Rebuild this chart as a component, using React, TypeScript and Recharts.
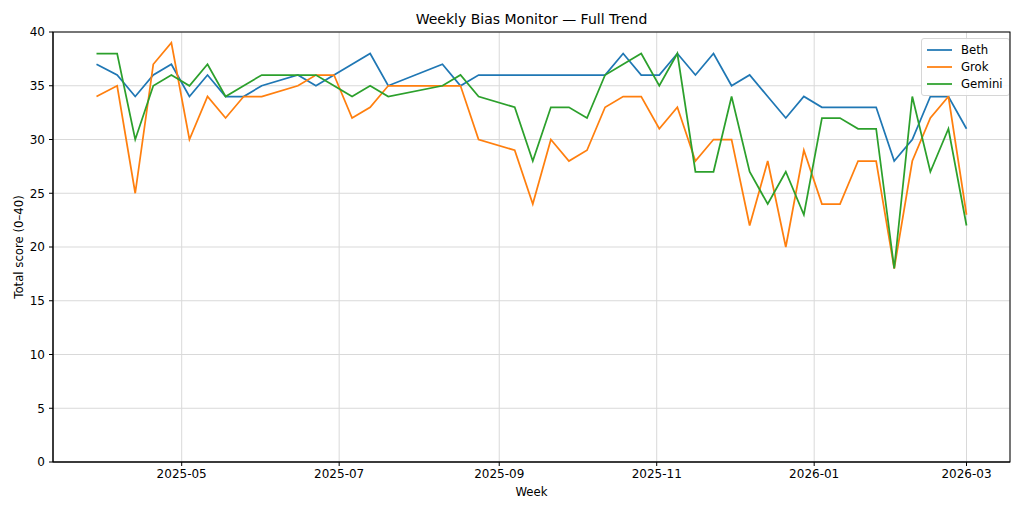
import {
  CartesianGrid,
  Legend,
  Line,
  LineChart,
  XAxis,
  YAxis,
} from 'recharts'

const weeks = [
  '2025-03-29', '2025-04-06', '2025-04-13', '2025-04-20', '2025-04-27',
  '2025-05-04', '2025-05-11', '2025-05-18', '2025-05-25', '2025-06-01',
  '2025-06-15', '2025-06-22', '2025-06-29', '2025-07-06', '2025-07-13',
  '2025-07-20', '2025-08-10', '2025-08-17', '2025-08-24', '2025-09-07',
  '2025-09-14', '2025-09-21', '2025-09-28', '2025-10-05', '2025-10-12',
  '2025-10-19', '2025-10-26', '2025-11-02', '2025-11-09', '2025-11-16',
  '2025-11-23', '2025-11-30', '2025-12-07', '2025-12-14', '2025-12-21',
  '2025-12-28', '2026-01-04', '2026-01-11', '2026-01-18', '2026-01-25',
  '2026-02-01', '2026-02-08', '2026-02-15', '2026-02-22', '2026-03-01',
]

const beth = [
  37, 36, 34, 36, 37, 34, 36, 34, 34, 35,
  36, 35, 36, 37, 38, 35, 37, 35, 36, 36,
  36, 36, 36, 36, 36, 38, 36, 36, 38, 36,
  38, 35, 36, 34, 32, 34, 33, 33, 33, 33,
  28, 30, 34, 34, 31,
]

const grok = [
  34, 35, 25, 37, 39, 30, 34, 32, 34, 34,
  35, 36, 36, 32, 33, 35, 35, 35, 30, 29,
  24, 30, 28, 29, 33, 34, 34, 31, 33, 28,
  30, 30, 22, 28, 20, 29, 24, 24, 28, 28,
  18, 28, 32, 34, 23,
]

const gemini = [
  38, 38, 30, 35, 36, 35, 37, 34, 35, 36,
  36, 36, 35, 34, 35, 34, 35, 36, 34, 33,
  28, 33, 33, 32, 36, 37, 38, 35, 38, 27,
  27, 34, 27, 24, 27, 23, 32, 32, 31, 31,
  18, 34, 27, 31, 22,
]

const monthTicks = ['2025-05-01', '2025-07-01', '2025-09-01', '2025-11-01', '2026-01-01', '2026-03-01']
const scoreTicks = [0, 5, 10, 15, 20, 25, 30, 35, 40]

const series = [
  { key: 'beth', name: 'Beth', color: '#1f77b4' },
  { key: 'grok', name: 'Grok', color: '#ff7f0e' },
  { key: 'gemini', name: 'Gemini', color: '#2ca02c' },
]

const toTime = (d: string) => {
  const [y, m, day] = d.split('-').map(Number)
  return Date.UTC(y, m - 1, day)
}

const formatMonth = (t: number) => {
  const d = new Date(t)
  return `${d.getUTCFullYear()}-${String(d.getUTCMonth() + 1).padStart(2, '0')}`
}

const data = weeks.map((w, i) => ({
  t: toTime(w),
  beth: beth[i],
  grok: grok[i],
  gemini: gemini[i],
}))

// matplotlib-style 5% padding on the date axis
const tMin = data[0].t
const tMax = data[data.length - 1].t
const pad = (tMax - tMin) * 0.05
const xDomain = [tMin - pad, tMax + pad]

const W = 1024
const H = 512
const M = { top: 32, right: 14, bottom: 20, left: 8 }
const Y_AXIS_W = 45
const X_AXIS_H = 30
const plot = {
  x: M.left + Y_AXIS_W,
  y: M.top,
  w: W - M.left - Y_AXIS_W - M.right,
  h: H - M.top - M.bottom - X_AXIS_H,
}

const FONT = '"DejaVu Sans", sans-serif'
const tickStyle = { fill: '#000', fontSize: 12, fontFamily: FONT }

// keep the legend in series order (recharts sorts it by name otherwise)
const LegendBox = () => (
  <div
    style={{
      border: '1px solid #d6d6d6',
      borderRadius: 3,
      background: 'rgba(255,255,255,0.85)',
      padding: '2px 6px 3px 5px',
      fontFamily: FONT,
      fontSize: 11.7,
      color: '#000',
    }}
  >
    {series.map((s) => (
      <div key={s.key} style={{ display: 'flex', alignItems: 'center', height: 17 }}>
        <svg width={25} height={4} style={{ marginRight: 9 }}>
          <line x1={0} y1={2} x2={25} y2={2} stroke={s.color} strokeWidth={1.75} />
        </svg>
        <span>{s.name}</span>
      </div>
    ))}
  </div>
)

export default function App() {
  return (
    <div
      style={{
        position: 'absolute',
        left: 0,
        top: 0,
        width: W,
        height: H,
        background: '#fff',
        fontFamily: FONT,
      }}
    >
      <div
        style={{
          position: 'absolute',
          left: plot.x,
          width: plot.w,
          top: 11,
          textAlign: 'center',
          fontSize: 14,
          lineHeight: '17px',
          color: '#000',
        }}
      >
        Weekly Bias Monitor — Full Trend
      </div>
      <LineChart width={W} height={H} data={data} margin={M}>
        <CartesianGrid stroke="#d9d9d9" strokeWidth={1} />
        <XAxis
          dataKey="t"
          type="number"
          domain={xDomain}
          ticks={monthTicks.map(toTime)}
          tickFormatter={formatMonth}
          allowDataOverflow
          height={X_AXIS_H}
          stroke="#000"
          tickSize={4}
          tickMargin={3}
          tick={tickStyle}
          label={{
            value: 'Week',
            position: 'center',
            dy: 15,
            style: { fill: '#000', fontSize: 11.7, fontFamily: FONT },
          }}
        />
        <YAxis
          type="number"
          domain={[0, 40]}
          ticks={scoreTicks}
          width={Y_AXIS_W}
          stroke="#000"
          tickSize={4}
          tickMargin={4}
          tick={tickStyle}
          label={{
            value: 'Total score (0–40)',
            angle: -90,
            position: 'center',
            dx: -12,
            style: { fill: '#000', fontSize: 11.7, fontFamily: FONT, textAnchor: 'middle' },
          }}
        />
        <Legend
          layout="vertical"
          align="center"
          verticalAlign="middle"
          content={LegendBox}
          wrapperStyle={{ left: 921, top: 38, width: 'auto' }}
        />
        {series.map((s) => (
          <Line
            key={s.key}
            dataKey={s.key}
            name={s.name}
            type="linear"
            stroke={s.color}
            strokeWidth={1.75}
            dot={false}
            activeDot={false}
            isAnimationActive={false}
          />
        ))}
      </LineChart>
      {/* full frame round the plot area, like matplotlib spines */}
      <svg
        width={W}
        height={H}
        style={{ position: 'absolute', left: 0, top: 0, pointerEvents: 'none' }}
      >
        <rect x={plot.x} y={plot.y} width={plot.w} height={plot.h} fill="none" stroke="#000" strokeWidth={1} />
      </svg>
    </div>
  )
}
